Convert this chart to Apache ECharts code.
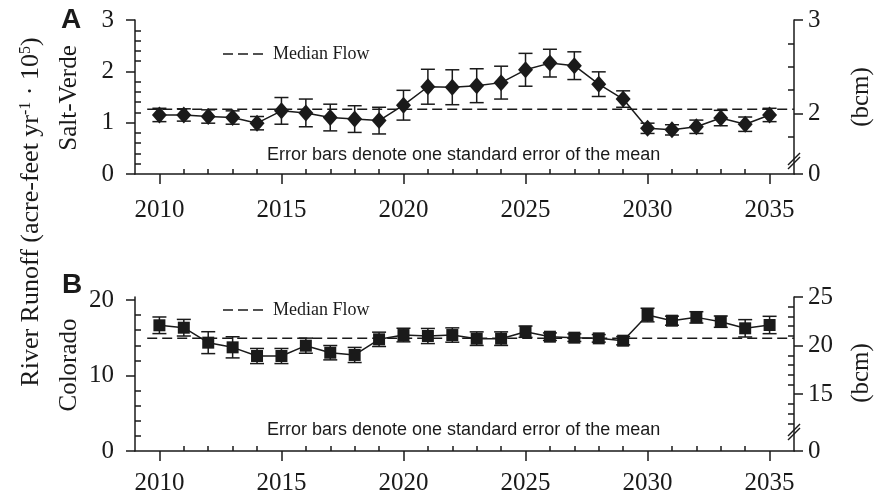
<!DOCTYPE html>
<html><head><meta charset="utf-8">
<script src="https://cdn.jsdelivr.net/npm/echarts@6/dist/echarts.min.js"></script>
<style>html,body{margin:0;padding:0;background:#fff}#c{width:875px;height:500px}</style>
</head><body><div id="c"></div>
<script>
// ---- data ----
const years = [2010,2011,2012,2013,2014,2015,2016,2017,2018,2019,2020,2021,2022,2023,2024,2025,2026,2027,2028,2029,2030,2031,2032,2033,2034,2035];
const saltVerde   = [1.15,1.15,1.12,1.10,0.99,1.23,1.19,1.10,1.07,1.04,1.34,1.70,1.69,1.72,1.78,2.03,2.16,2.11,1.75,1.46,0.89,0.86,0.92,1.09,0.97,1.15];
const saltVerdeSE = [0.13,0.12,0.13,0.13,0.13,0.26,0.27,0.26,0.26,0.26,0.29,0.34,0.34,0.33,0.32,0.32,0.27,0.27,0.24,0.16,0.10,0.10,0.13,0.15,0.14,0.13];
const colorado    = [16.65,16.33,14.35,13.73,12.58,12.58,13.95,13.02,12.72,14.79,15.36,15.23,15.36,14.88,14.88,15.80,15.14,15.01,14.92,14.61,18.01,17.26,17.70,17.13,16.25,16.69];
const coloradoSE  = [1.1,1.1,1.45,1.4,1.0,1.0,1.0,0.95,1.0,0.95,0.9,1.0,0.95,0.9,0.9,0.75,0.5,0.5,0.5,0.55,0.9,0.6,0.75,0.75,1.15,1.15];
const saltVerdeMedian = 1.26;
const coloradoMedian = 14.92;
const xMajorTicks = [2010,2015,2020,2025,2030,2035];
const aLeftTicks = [0,1,2,3];
const aLeftMinor = [0.2,0.4,0.6,0.8,1.2,1.4,1.6,1.8,2.2,2.4,2.6,2.8];
const aRightTicks = [2,3];
const aRightMinor = [1.75,2.25,2.5,2.75];
const bLeftTicks = [0,10,20];
const bLeftMinor = [2,4,6,8,12,14,16,18];
const bRightTicks = [15,20,25];
const bRightMinor = [12,13,14,16,17,18,19,21,22,23,24];
const texts = {
  a: 'A', b: 'B', median: 'Median Flow',
  note: 'Error bars denote one standard error of the mean',
  svName: 'Salt-Verde', coName: 'Colorado', bcm: '(bcm)'
};

// ---- layout ----
const INK = '#1a1a1a';
const SERIF = '"Liberation Serif", "DejaVu Serif", serif';
const SANS = '"Liberation Sans", Arial, sans-serif';
const gridH = 154;
const aRightMin = 3 - gridH / 93.3;   // axis break: bottom of right axis labelled 0
const bRightMin = 25 - gridH / 9.72;
const bLeftMax = gridH / 7.55;
const xMinor = years.filter(y => y % 5 !== 0);

const chart = echarts.init(document.getElementById('c'), null, {renderer: 'canvas'});

function xAxes(gi, margin) {
  return [
    {gridIndex: gi, type: 'value', min: 2009, max: 2036, position: 'bottom',
     axisLine: {onZero: false, lineStyle: {color: INK, width: 1.5}},
     axisTick: {customValues: xMajorTicks, length: 10, inside: false, lineStyle: {color: INK, width: 1.5}},
     axisLabel: {customValues: xMajorTicks, margin: margin, color: INK, fontFamily: SERIF, fontSize: 25, formatter: v => String(v)},
     splitLine: {show: false}},
    {gridIndex: gi, type: 'value', min: 2009, max: 2036, position: 'bottom',
     axisLine: {show: false, onZero: false},
     axisTick: {customValues: xMinor, length: 5, inside: true, lineStyle: {color: INK, width: 1.5}},
     axisLabel: {show: false}, splitLine: {show: false}}
  ];
}
function yAxes(gi, lmin, lmax, lTicks, lMinor, rmin, rmax, rTicks, rMinor) {
  const rMajor = [rmin].concat(rTicks);
  return [
    {gridIndex: gi, type: 'value', min: lmin, max: lmax, position: 'left',
     axisLine: {show: true, onZero: false, lineStyle: {color: INK, width: 1.5}},
     axisTick: {customValues: lTicks, length: 9, inside: false, lineStyle: {color: INK, width: 1.5}},
     axisLabel: {customValues: lTicks, margin: 21, color: INK, fontFamily: SERIF, fontSize: 25},
     splitLine: {show: false}},
    {gridIndex: gi, type: 'value', min: lmin, max: lmax, position: 'left',
     axisLine: {show: false, onZero: false},
     axisTick: {customValues: lMinor, length: 6, inside: true, lineStyle: {color: INK, width: 1.5}},
     axisLabel: {show: false}, splitLine: {show: false}},
    {gridIndex: gi, type: 'value', min: rmin, max: rmax, position: 'right',
     axisLine: {show: true, onZero: false, lineStyle: {color: INK, width: 1.5}},
     axisTick: {customValues: rMajor, length: 9, inside: false, lineStyle: {color: INK, width: 1.5}},
     axisLabel: {customValues: rMajor, margin: 14, color: INK, fontFamily: SERIF, fontSize: 25,
                 formatter: v => (Math.abs(v - rmin) < 1e-6 ? '0' : String(v))},
     splitLine: {show: false}},
    {gridIndex: gi, type: 'value', min: rmin, max: rmax, position: 'right',
     axisLine: {show: false, onZero: false},
     axisTick: {customValues: rMinor, length: 6, inside: true, lineStyle: {color: INK, width: 1.5}},
     axisLabel: {show: false}, splitLine: {show: false}}
  ];
}

function errRender(params, api) {
  const x = api.value(0), lo = api.value(1), hi = api.value(2);
  const p1 = api.coord([x, lo]), p2 = api.coord([x, hi]);
  const w = 7;
  const st = {stroke: INK, lineWidth: 1.5};
  return {type: 'group', children: [
    {type: 'line', shape: {x1: p1[0], y1: p1[1], x2: p2[0], y2: p2[1]}, style: st},
    {type: 'line', shape: {x1: p1[0] - w, y1: p1[1], x2: p1[0] + w, y2: p1[1]}, style: st},
    {type: 'line', shape: {x1: p2[0] - w, y1: p2[1], x2: p2[0] + w, y2: p2[1]}, style: st}
  ]};
}

function panelSeries(xi, yi, vals, se, median, symbol, size) {
  return [
    {type: 'line', xAxisIndex: xi, yAxisIndex: yi, data: [[2009.5, median], [2036, median]],
     symbol: 'none', silent: true, z: 1,
     lineStyle: {color: INK, width: 1.5, type: [10, 5]}},
    {type: 'custom', xAxisIndex: xi, yAxisIndex: yi, renderItem: errRender, z: 2,
     encode: {x: 0, y: [1, 2]},
     data: years.map((y, i) => [y, vals[i] - se[i], vals[i] + se[i]])},
    {type: 'line', xAxisIndex: xi, yAxisIndex: yi, z: 3,
     data: years.map((y, i) => [y, vals[i]]),
     symbol: symbol, symbolSize: size, showSymbol: true,
     lineStyle: {color: INK, width: 1.5}, itemStyle: {color: INK}}
  ];
}

function txt(x, y, text, font, align, rot) {
  return {type: 'text', x: x, y: y, rotation: rot || 0,
    style: {text: text, font: font, fill: INK, align: align || 'left', textAlign: align || 'left',
            verticalAlign: 'middle', textVerticalAlign: 'middle'}};
}
function seg(x1, y1, x2, y2, dash) {
  return {type: 'line', shape: {x1, y1, x2, y2}, style: {stroke: INK, lineWidth: 1.5, lineDash: dash || null}};
}

const option = {
  animation: false,
  backgroundColor: '#fff',
  grid: [
    {left: 135, width: 659, top: 20, height: gridH},
    {left: 135, width: 659, top: 297, height: gridH}
  ],
  xAxis: xAxes(0, 24).concat(xAxes(1, 20)),
  yAxis: yAxes(0, 0, 3, aLeftTicks, aLeftMinor, aRightMin, 3, aRightTicks, aRightMinor)
    .concat(yAxes(1, 0, bLeftMax, bLeftTicks, bLeftMinor, bRightMin, 25, bRightTicks, bRightMinor)),
  series: panelSeries(0, 0, saltVerde, saltVerdeSE, saltVerdeMedian, 'diamond', [15, 17])
    .concat(panelSeries(2, 4, colorado, coloradoSE, coloradoMedian, 'rect', 12)),
  graphic: [
    txt(61, 20, texts.a, 'bold 28px ' + SANS),
    txt(62, 285, texts.b, 'bold 28px ' + SANS),
    seg(223, 54, 265, 54, [10, 5]),
    txt(273, 54, texts.median, '18px ' + SERIF),
    seg(223, 310, 265, 310, [10, 5]),
    txt(273, 310, texts.median, '18px ' + SERIF),
    txt(267, 155, texts.note, '18px ' + SANS),
    txt(267, 430, texts.note, '18px ' + SANS),
    txt(69, 98, texts.svName, '25px ' + SERIF, 'center', Math.PI / 2),
    txt(69, 365, texts.coName, '25px ' + SERIF, 'center', Math.PI / 2),
    txt(861, 97, texts.bcm, '25px ' + SERIF, 'center', Math.PI / 2),
    txt(861, 373, texts.bcm, '25px ' + SERIF, 'center', Math.PI / 2),
    {type: 'text', x: 31, y: 212, rotation: Math.PI / 2,
     style: {text: '{a|River Runoff (acre-feet yr}{s|-1}{a| · 10}{s|5}{a|)}',
             align: 'center', textAlign: 'center', verticalAlign: 'middle', textVerticalAlign: 'middle', fill: INK,
             rich: {a: {font: '26px ' + SERIF, fill: INK, verticalAlign: 'bottom'},
                    s: {font: '16px ' + SERIF, fill: INK, verticalAlign: 'top'}}}},
    // axis-break marks on right axes
    seg(788, 169, 800, 157), seg(788, 165, 800, 153),
    seg(788, 440, 800, 428), seg(788, 436, 800, 424)
  ]
};
chart.setOption(option);
</script>
</body></html>
